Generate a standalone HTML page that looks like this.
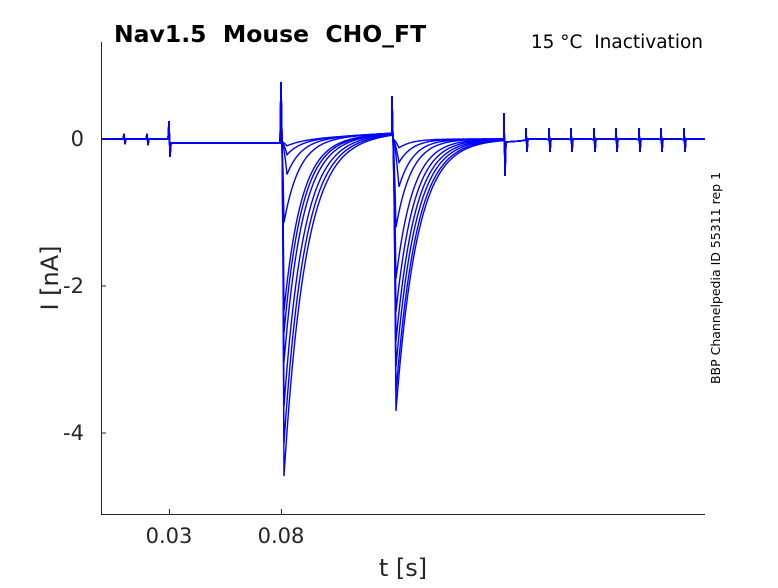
<!DOCTYPE html>
<html><head><meta charset="utf-8"><style>
body{margin:0;background:#fff;width:778px;height:583px;overflow:hidden}
svg{font-family:"DejaVu Sans","Liberation Sans",sans-serif}
text{white-space:pre}
</style></head><body>
<svg id="s" width="778" height="583" xmlns="http://www.w3.org/2000/svg" xml:space="preserve">
<rect width="778" height="583" fill="#fff"/>
<g id="tr" fill="none" stroke="#0000ff" stroke-width="1.4"></g>
<g stroke="#262626" stroke-width="1" fill="none">
<path d="M101.5 42V514.5H705"/>
<path d="M101 139h5M101 286h5M101 433h5M169.5 514v-5M281.5 514v-5"/>
</g>
<g fill="#262626" font-size="21">
<text x="84" y="146" text-anchor="end">0</text>
<text x="84" y="293" text-anchor="end">-2</text>
<text x="84" y="440" text-anchor="end">-4</text>
<text x="169" y="543" text-anchor="middle">0.03</text>
<text x="281" y="543" text-anchor="middle">0.08</text>
<text x="403" y="576" text-anchor="middle" font-size="24">t [s]</text>
<text transform="translate(58,278) rotate(-90)" text-anchor="middle" font-size="24">I [nA]</text>
</g>
<text x="114" y="42" font-size="23.5" font-weight="bold" fill="#000">Nav1.5  Mouse  CHO_FT</text>
<text x="703" y="48" font-size="18.5" fill="#000" text-anchor="end">15 °C  Inactivation</text>
<text transform="translate(720,278) rotate(-90)" font-size="12.5" text-anchor="middle" fill="#000">BBP Channelpedia ID 55311 rep 1</text>
</svg>
<script>
var Y=function(v){return 139-v*73.5};
var p1=[4.55,4.1,3.6,3.0,2.6,2.3,1.1,0.45,0.18,0.06];
var p2=[3.7,3.45,3.1,2.75,2.35,1.9,1.2,0.65,0.32,0.12];
var g=document.getElementById('tr'),h='';
function shape(dt,P,tau,tp){
 var r=dt<tp?Math.pow(dt/tp,1.5):1;
 var e=dt<tp?1:Math.exp(-(dt-tp)/tau);
 return -P*r*e;
}
for(var k=0;k<p1.length;k++){
 var d='M101 139',x;
 d+=' L123 139 L124 134 L125 144 L126 139 L146 139 L147 134 L148 145 L149 139 L168 139 L169 121 L170 157 L171 143';
 d+=' L280 143 L281 82 L282 139';
 var P=p1[k],tau=13+P*1.8,tp=P>1?2:5;
 for(x=282;x<=392;x+=1){var dt=x-282;var v=shape(dt,P,tau,tp)+0.08*(dt/110)*(1-Math.exp(-dt/20))-0.04*Math.exp(-dt/30);d+=' L'+x+' '+Y(v).toFixed(1);}
 d+=' L392 96 L393 139';
 P=p2[k];tau=13+P*2.2;tp=P>1?3:6;
 for(x=393;x<=504;x+=1){var dt=x-393;var v=shape(dt,P,tau,tp);d+=' L'+x+' '+Y(v).toFixed(1);}
 d+=' L504 113 L505 176 L506 142 L520 141 L526 140';
 var sp=[526,549,571,594,616,639,661,684];
 for(var i=0;i<sp.length;i++){var s=sp[i];d+=' L'+s+' 140 L'+s+' 128 L'+(s+1)+' 152 L'+(s+2)+' 139 L'+(s+20)+' 139';}
 d+=' L705 139';
 h+='<path d="'+d+'"/>';
}
g.innerHTML=h;
</script>
</body></html>
